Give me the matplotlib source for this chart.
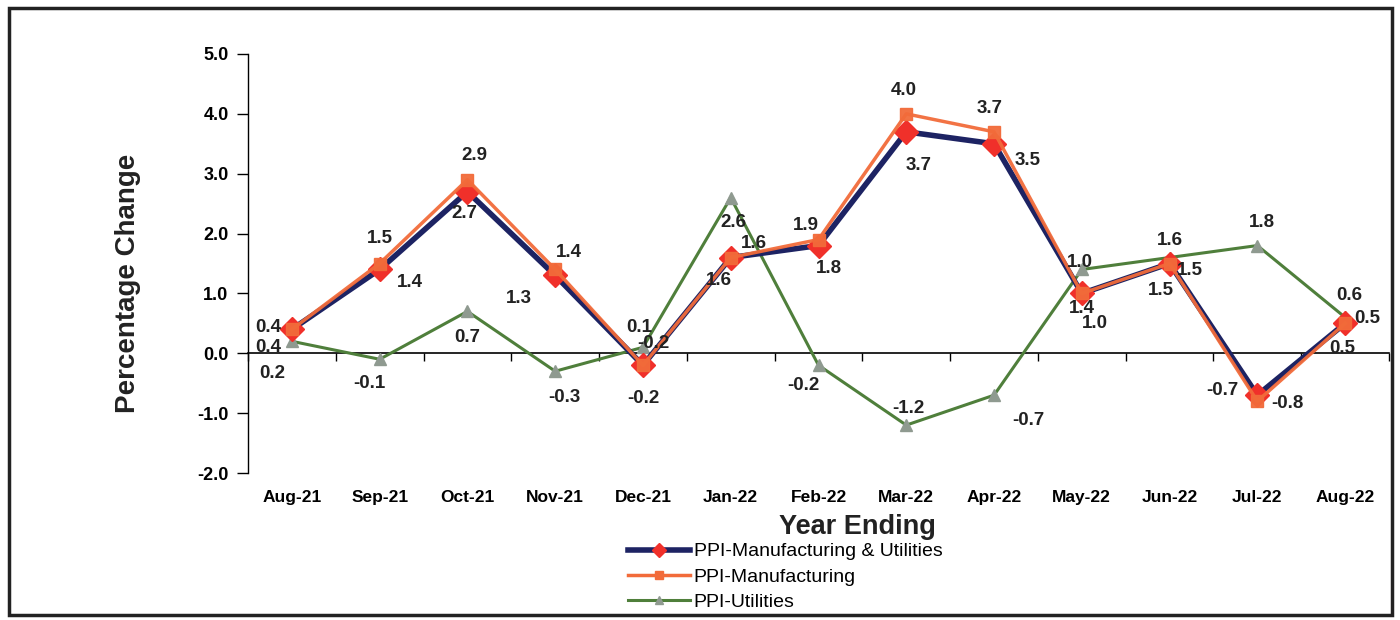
import matplotlib
matplotlib.use("Agg")
import matplotlib.pyplot as plt
from matplotlib.lines import Line2D
from matplotlib.patches import Rectangle
from matplotlib.ticker import FormatStrFormatter

plt.rcParams['font.family'] = ['Liberation Sans', 'DejaVu Sans']

# Data
months = ['Aug-21', 'Sep-21', 'Oct-21', 'Nov-21', 'Dec-21', 'Jan-22', 'Feb-22',
          'Mar-22', 'Apr-22', 'May-22', 'Jun-22', 'Jul-22', 'Aug-22']
ppi_mu = [0.4, 1.4, 2.7, 1.3, -0.2, 1.6, 1.8, 3.7, 3.5, 1.0, 1.5, -0.7, 0.5]
ppi_manuf = [0.4, 1.5, 2.9, 1.4, -0.2, 1.6, 1.9, 4.0, 3.7, 1.0, 1.5, -0.8, 0.5]
ppi_util = [0.2, -0.1, 0.7, -0.3, 0.1, 2.6, -0.2, -1.2, -0.7, 1.4, 1.6, 1.8, 0.6]

# label offsets (px, up positive)
off_mu = [(-24, 2), (30, -13), (-3, -22), (-36, -23), (0, -33), (-12, -23), (10, -23),
          (12, -34), (34, -17), (13, -30), (-9, -27), (-35, 5), (22, 5)]
off_manuf = [(-24, -18), (0, 25), (7, 24), (14, 17), (10, 22), (23, 14), (-13, 14),
             (-3, 23), (-4, 23), (-2, 31), (20, -7), (30, -2), (-3, -25)]
off_util = [(-20, -32), (-10, -24), (0, -26), (9, -26), (-4, 20), (3, -25), (-15, -20),
            (2, 17), (34, -25), (0, -39), (0, 17), (5, 23), (4, 22)]

c_mu, c_mu_mk = '#1d2363', '#f0302a'
c_manuf = '#f26b3a'
c_util, c_util_mk = '#4f7f3b', '#8f9a90'

fig = plt.figure(figsize=(14, 6.2), dpi=100)
ax = fig.add_axes([248 / 1400, 1 - 473 / 620, (1389 - 248) / 1400, (473 - 54) / 620])

x = list(range(len(months)))
ax.plot(x, ppi_util, color=c_util, lw=2.2, marker='^', ms=9, mfc=c_util_mk, mec=c_util_mk, zorder=3)
ax.plot(x, ppi_mu, color=c_mu, lw=4, marker='D', ms=12, mfc=c_mu_mk, mec=c_mu_mk, zorder=4)
ax.plot(x, ppi_manuf, color=c_manuf, lw=2.5, marker='s', ms=9, mfc=c_manuf, mec=c_manuf, zorder=5,
        alpha=0.95)

def add_labels(vals, offs):
    for xi, v, (dx, dy) in zip(x, vals, offs):
        ax.annotate(f'{v:.1f}', (xi, v), xytext=(dx * 0.72, dy * 0.72), textcoords='offset points',
                    ha='center', va='center', fontsize=13.5, fontweight='bold', color='#222222', zorder=6)

add_labels(ppi_mu, off_mu)
add_labels(ppi_manuf, off_manuf)
add_labels(ppi_util, off_util)

ymin, ymax = -2, 5
ax.set_ylim(ymin, ymax)
ax.set_xlim(-0.5, len(months) - 0.5)
ax.set_yticks(range(ymin, ymax + 1))
ax.yaxis.set_major_formatter(FormatStrFormatter('%.1f'))
ax.tick_params(axis='y', direction='out', length=8, width=1, labelsize=13, pad=6)
for lbl in ax.get_yticklabels():
    lbl.set_fontweight('bold')

ax.set_xticks(x)
ax.set_xticklabels(months, fontsize=12.5, fontweight='bold')
ax.tick_params(axis='x', length=0, pad=12)

for side in ['top', 'right', 'bottom']:
    ax.spines[side].set_visible(False)
ax.spines['left'].set_linewidth(1)

# zero line with category boundary ticks
sec = ax.secondary_xaxis((0 - ymin) / (ymax - ymin))
sec.set_xticks([i - 0.5 for i in x] + [len(months) - 0.5])
sec.set_xticklabels([])
sec.tick_params(direction='out', length=6, width=1)
sec.spines['bottom'].set_linewidth(1.2)

fig.text(128 / 1400, 1 - 283 / 620, 'Percentage Change', rotation=90, ha='center', va='center',
         fontsize=20, fontweight='bold', color='#222222')
fig.text(857 / 1400, 1 - 527 / 620, 'Year Ending', ha='center', va='center',
         fontsize=19.5, fontweight='bold', color='#222222')

handles = [
    Line2D([], [], color=c_mu, lw=4, marker='D', ms=7, mfc=c_mu_mk, mec=c_mu_mk),
    Line2D([], [], color=c_manuf, lw=2.5, marker='s', ms=6, mfc=c_manuf, mec=c_manuf),
    Line2D([], [], color=c_util, lw=2.2, marker='^', ms=6, mfc=c_util_mk, mec=c_util_mk),
]
fig.legend(handles, ['PPI-Manufacturing & Utilities', 'PPI-Manufacturing', 'PPI-Utilities'],
           loc='center', bbox_to_anchor=(785 / 1400, 1 - 577 / 620), frameon=False,
           fontsize=14, handlelength=3.2, handletextpad=0.2, labelspacing=0.4)

fig.patches.append(Rectangle((9 / 1400, 5 / 620), 1383 / 1400, 607 / 620, transform=fig.transFigure,
                             fill=False, ec='#222222', lw=2.5))

fig.savefig('out.png', dpi=100, facecolor='white')
